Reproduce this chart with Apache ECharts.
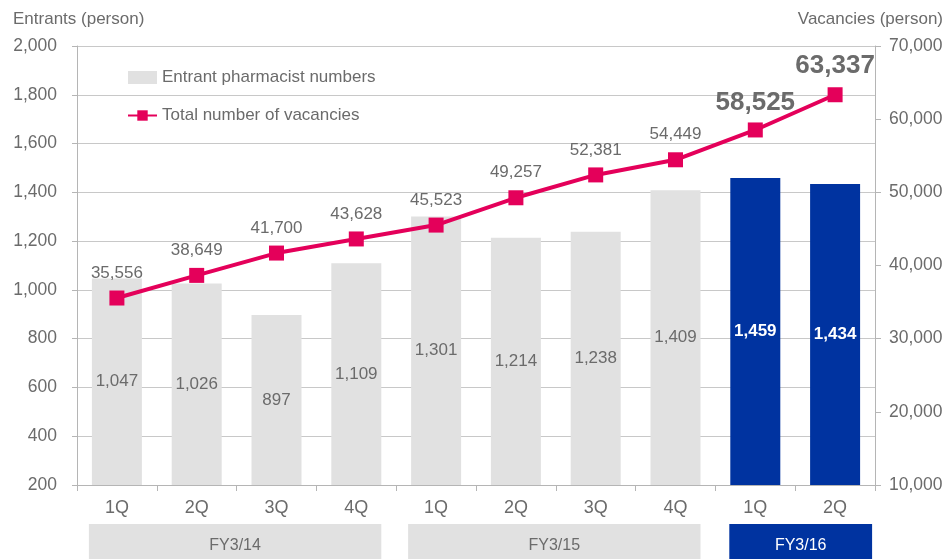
<!DOCTYPE html>
<html>
<head>
<meta charset="utf-8">
<script src="https://cdn.jsdelivr.net/npm/echarts@6/dist/echarts.min.js"></script>
<style>html,body{margin:0;padding:0;background:#fff}#c{width:946px;height:559px}</style>
</head>
<body>
<div id="c"></div>
<script>
const quarters = ['1Q','2Q','3Q','4Q','1Q','2Q','3Q','4Q','1Q','2Q'];
const fiscalYears = ['FY3/14','FY3/14','FY3/14','FY3/14','FY3/15','FY3/15','FY3/15','FY3/15','FY3/16','FY3/16'];
const entrants = [1047,1026,897,1109,1301,1214,1238,1409,1459,1434];
const vacancies = [35556,38649,41700,43628,45523,49257,52381,54449,58525,63337];
const highlightFY = 'FY3/16';
const leftTicks = {min:200, max:2000, interval:200};
const rightTicks = {min:10000, max:70000, interval:10000};

const categories = quarters.map((q,i)=>fiscalYears[i]+'|'+q);
const GRAY='#e1e1e1', BLUE='#0033a0', RED='#e4005a', TXT='#6b6b6b', AX='#b5b5b5';
const FONT='Arial, "Liberation Sans", sans-serif';
const fmt = v => v.toLocaleString('en-US');

const barData = entrants.map((v,i)=>{
  const hi = fiscalYears[i]===highlightFY;
  return {value:v, itemStyle:{color:hi?BLUE:GRAY},
    label:{color:hi?'#fff':TXT, fontWeight:hi?'bold':'normal'}};
});
const lineData = vacancies.map((v,i)=>{
  const hi = fiscalYears[i]===highlightFY;
  return hi ? {value:v, label:{fontSize:26, fontWeight:'bold', distance:i===vacancies.length-1?8:7}} : {value:v};
});

const chart = echarts.init(document.getElementById('c'));
chart.setOption({
  animation:false,
  textStyle:{fontFamily:FONT},
  grid:{left:77, right:71, top:46, bottom:74, containLabel:false, outerBoundsMode:'none'},
  legend:{
    left:122, top:64, orient:'vertical', itemGap:21, itemWidth:29, itemHeight:13,
    textStyle:{fontSize:17, color:TXT, fontFamily:FONT},
    data:[
      {name:'Entrant pharmacist numbers', icon:'rect', itemStyle:{color:GRAY}},
      {name:'Total number of vacancies'}
    ]
  },
  xAxis:{
    type:'category', data:categories,
    axisLine:{lineStyle:{color:AX, width:1}},
    axisTick:{show:true, length:6, lineStyle:{color:AX}},
    axisLabel:{formatter:v=>v.split('|')[1], fontSize:18, color:TXT, margin:14, fontFamily:FONT}
  },
  yAxis:[
    {type:'value', min:leftTicks.min, max:leftTicks.max, interval:leftTicks.interval,
     name:'Entrants (person)', nameLocation:'end', nameGap:0,
     nameTextStyle:{fontSize:17, color:TXT, align:'left', padding:[0,0,18,-64], fontFamily:FONT},
     axisLine:{show:true, lineStyle:{color:AX}},
     axisTick:{show:true, length:5, lineStyle:{color:AX}},
     axisLabel:{formatter:fmt, fontSize:17.5, color:TXT, margin:20, fontFamily:FONT},
     splitLine:{show:true, lineStyle:{color:'#c8c8c8', width:1}}},
    {type:'value', min:rightTicks.min, max:rightTicks.max, interval:rightTicks.interval,
     name:'Vacancies (person)', nameLocation:'end', nameGap:0,
     nameTextStyle:{fontSize:17, color:TXT, align:'right', padding:[0,-68,18,0], fontFamily:FONT},
     axisLine:{show:true, lineStyle:{color:AX}},
     axisTick:{show:true, length:6, lineStyle:{color:AX}},
     axisLabel:{formatter:fmt, fontSize:17.5, color:TXT, margin:14, fontFamily:FONT},
     splitLine:{show:false}}
  ],
  series:[
    {name:'Entrant pharmacist numbers', type:'bar', yAxisIndex:0, barWidth:50,
     data:barData,
     label:{show:true, position:'inside', formatter:p=>fmt(p.value), fontSize:17, fontFamily:FONT}},
    {name:'Total number of vacancies', type:'line', yAxisIndex:1, data:lineData,
     symbol:'rect', symbolSize:15, itemStyle:{color:RED}, lineStyle:{color:RED, width:4},
     label:{show:true, position:'top', distance:9, formatter:p=>fmt(p.value), fontSize:17, color:TXT, fontFamily:FONT}}
  ]
});

// Fiscal-year group boxes beneath the quarter labels
function drawGroups(){
  const groups = [];
  fiscalYears.forEach((fy,i)=>{
    const g = groups[groups.length-1];
    if (g && g.name===fy) g.to=i; else groups.push({name:fy, from:i, to:i});
  });
  const elements = groups.map(g=>{
    const hi = g.name===highlightFY;
    const x0 = chart.convertToPixel({xAxisIndex:0}, categories[g.from]) - (hi ? 26 : 28);
    const x1 = chart.convertToPixel({xAxisIndex:0}, categories[g.to]) + (hi ? 37 : 25);
    return {type:'group', children:[
      {type:'rect', shape:{x:x0, y:524, width:x1-x0, height:40}, style:{fill:hi?BLUE:GRAY}},
      {type:'text', x:(x0+x1)/2, y:546, style:{text:g.name, fill:hi?'#fff':TXT, font:'16px '+FONT, align:'center', verticalAlign:'middle'}}
    ]};
  });
  chart.setOption({graphic:elements});
}
drawGroups();
</script>
</body>
</html>
